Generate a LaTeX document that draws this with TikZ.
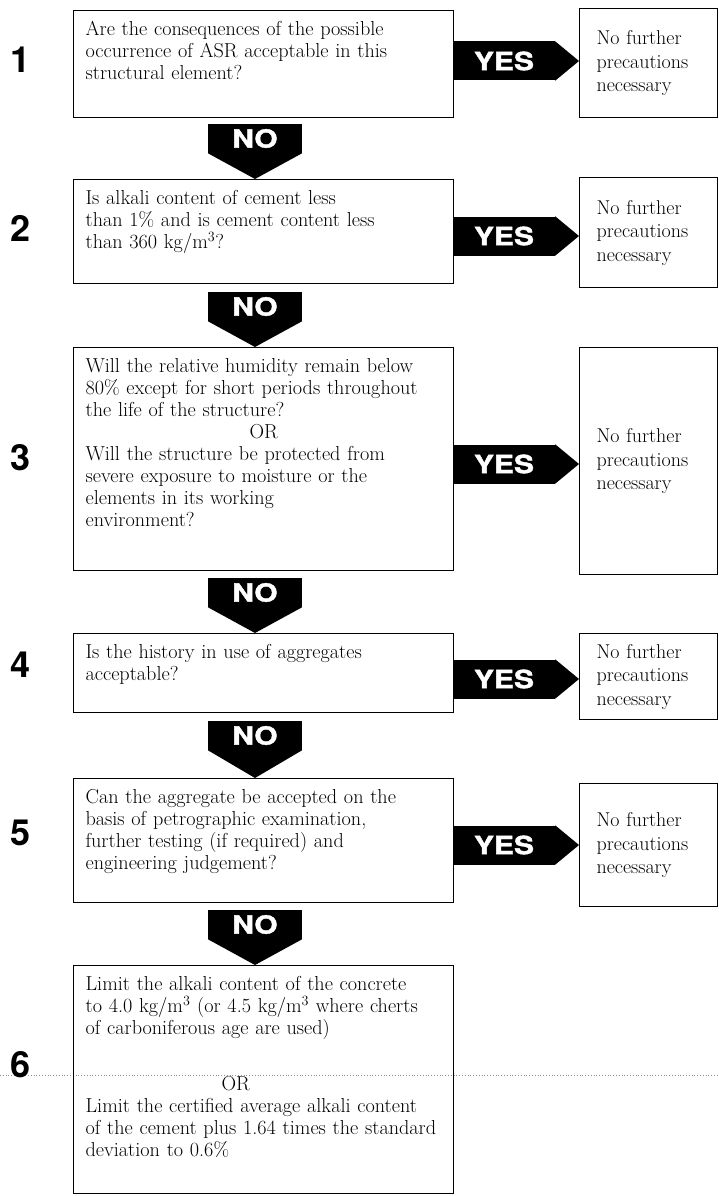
\documentclass[tikz,border=0pt]{standalone}
\usepackage{fontspec}
\newfontfamily\numfont{TeX Gyre Heros}
\newfontfamily\tagfont{TeX Gyre Heros}[FakeStretch=1.2, FakeBold=1.6]
\usetikzlibrary{positioning}

\begin{document}
\begin{tikzpicture}[x=1pt, y=-1pt,
		qbox/.style={draw, rectangle, line width=1.2pt, anchor=north west, text width=356pt, inner xsep=12pt, inner ysep=11pt, align=left, text height=14pt, text depth=#1, font=\fontsize{20.2}{22}\selectfont},
		rbox/.style={draw, rectangle, line width=1.2pt, anchor=north west, text width=104pt, inner xsep=17pt, minimum height=#1, align=left, font=\fontsize{20}{23.5}\selectfont},
		yesbody/.style={fill=black, text=white, rectangle, minimum width=102pt, minimum height=39pt, inner sep=0pt, font=\tagfont\bfseries\fontsize{25}{25}\selectfont},
		nobody/.style={fill=black, text=white, rectangle, minimum width=94pt, minimum height=29pt, inner sep=0pt, font=\tagfont\bfseries\fontsize{25}{25}\selectfont},
		num/.style={font=\numfont\bfseries\fontsize{36}{36}\selectfont, inner sep=0pt}]
		\useasboundingbox (0, 0) rectangle (719, 1196);
		% fold line of the scan
		\draw[black!45, dotted, line width=0.8pt] (0, 1075) -- (719, 1075);

		\node[num] (n1) at (21, 60) {1};
		\node[num] (n2) at (21, 228) {2};
		\node[num] (n3) at (21, 458) {3};
		\node[num] (n4) at (21, 665) {4};
		\node[num] (n5) at (21, 833) {5};
		\node[num] (n6) at (21, 1065) {6};

		\node[qbox=71pt] (q1) at (73, 10) {Are the consequences of the possible\\ occurrence of ASR acceptable in this\\ structural element?};
		\node[qbox=68pt] (q2) at (73, 179) {Is alkali content of cement less\\ than 1\% and is cement content less\\ than 360 kg/m\textsuperscript{3}?};
		\node[qbox=187pt] (q3) at (73, 347) {Will the relative humidity remain below\\ 80\% except for short periods throughout\\ the life of the structure?\\ \hspace*{164pt}OR\\ Will the structure be protected from\\ severe exposure to moisture or the\\ elements in its working\\ environment?};
		\node[qbox=43pt] (q4) at (73, 633) {Is the history in use of aggregates\\ acceptable?};
		\node[qbox=88pt] (q5) at (73, 778) {Can the aggregate be accepted on the\\ basis of petrographic examination,\\ further testing (if required) and\\ engineering judgement?};
		\node[qbox=192pt] (q6) at (73, 965) {Limit the alkali content of the concrete\\ to 4.0 kg/m\textsuperscript{3} (or 4.5 kg/m\textsuperscript{3} where cherts\\ of carboniferous age are used)\\[34pt] \hspace*{136pt}OR\\ Limit the certified average alkali content\\ of the cement plus 1.64 times the standard\\ deviation to 0.6\%};

		\node[rbox=109pt] (r1) at (579, 8) {No further\\ precautions\\ necessary};
		\node[rbox=110pt] (r2) at (579, 177) {No further\\ precautions\\ necessary};
		\node[rbox=227pt] (r3) at (579, 347) {No further\\ precautions\\ necessary};
		\node[rbox=86pt] (r4) at (579, 633) {No further\\ precautions\\ necessary};
		\node[rbox=123pt] (r5) at (579, 783) {No further\\ precautions\\ necessary};

		\node[yesbody] (yes1) at (504, 61) {YES};
		\node[yesbody] (yes2) at (504, 236) {YES};
		\node[yesbody] (yes3) at (504, 464) {YES};
		\node[yesbody] (yes4) at (504, 679) {YES};
		\node[yesbody] (yes5) at (504, 845) {YES};
		\fill (yes1.north east) -- (yes1.east -| r1.west) -- (yes1.south east) -- cycle;
		\fill (yes2.north east) -- (yes2.east -| r2.west) -- (yes2.south east) -- cycle;
		\fill (yes3.north east) -- (yes3.east -| r3.west) -- (yes3.south east) -- cycle;
		\fill (yes4.north east) -- (yes4.east -| r4.west) -- (yes4.south east) -- cycle;
		\fill (yes5.north east) -- (yes5.east -| r5.west) -- (yes5.south east) -- cycle;

		\node[nobody] (no1) at (255, 138.5) {NO};
		\node[nobody] (no2) at (255, 306.5) {NO};
		\node[nobody] (no3) at (255, 592.5) {NO};
		\node[nobody] (no4) at (255, 735.5) {NO};
		\node[nobody] (no5) at (255, 924.5) {NO};
		\fill (no1.south west) -- (no1.south east) -- (no1.south |- q2.north) -- cycle;
		\fill (no2.south west) -- (no2.south east) -- (no2.south |- q3.north) -- cycle;
		\fill (no3.south west) -- (no3.south east) -- (no3.south |- q4.north) -- cycle;
		\fill (no4.south west) -- (no4.south east) -- (no4.south |- q5.north) -- cycle;
		\fill (no5.south west) -- (no5.south east) -- (no5.south |- q6.north) -- cycle;
	\end{tikzpicture}
\end{document}
